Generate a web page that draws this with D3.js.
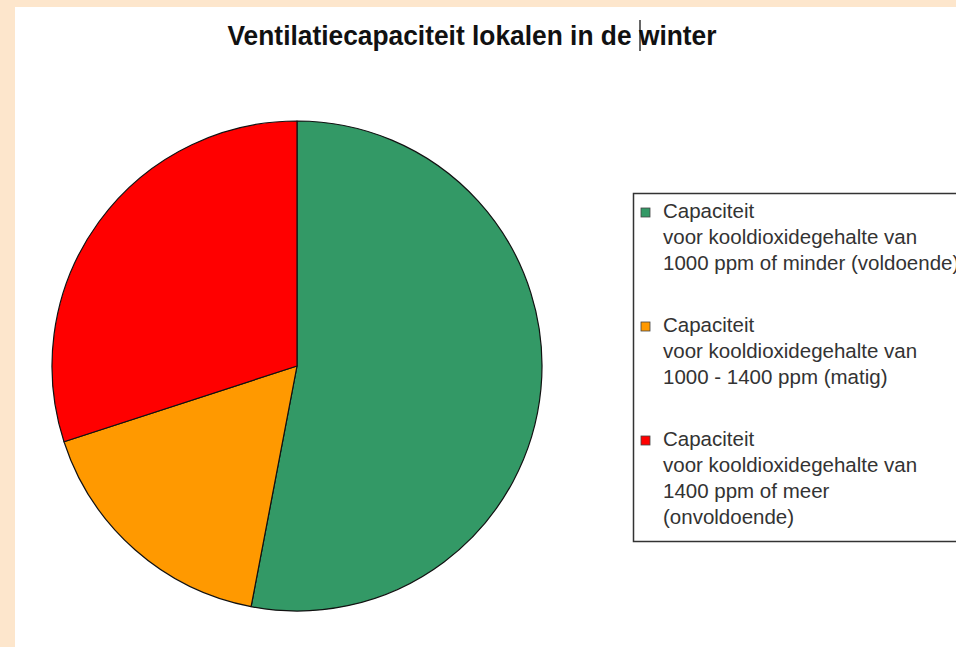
<!DOCTYPE html>
<html>
<head>
<meta charset="utf-8">
<script src="https://cdn.jsdelivr.net/npm/d3@7"></script>
<style>
  body { margin: 0; background: #fde6cc; }
  svg { display: block; }
  text { font-family: "Liberation Sans", Arial, sans-serif; }
</style>
</head>
<body>
<div id="chart"></div>
<script>
var categories = ['voldoende', 'matig', 'onvoldoende']
var values = [53, 17, 30]
var colors = ['#339966', '#ff9900', '#ff0000']
var legendLines = [
  ['Capaciteit', 'voor kooldioxidegehalte van', '1000 ppm of minder (voldoende)'],
  ['Capaciteit', 'voor kooldioxidegehalte van', '1000 - 1400 ppm (matig)'],
  ['Capaciteit', 'voor kooldioxidegehalte van', '1400 ppm of meer', '(onvoldoende)']
]
var title = 'Ventilatiecapaciteit lokalen in de winter'

var width = 956, height = 647

var svg = d3.select('#chart').append('svg')
  .attr('width', width).attr('height', height)

// white page, peach strip left and top
svg.append('rect')
  .attr('x', 15).attr('y', 7)
  .attr('width', width - 15).attr('height', height - 7)
  .attr('fill', '#fff')

svg.append('text')
  .attr('x', 472).attr('y', 45)
  .attr('text-anchor', 'middle')
  .attr('font-size', 28).attr('font-weight', 'bold')
  .attr('textLength', 489).attr('lengthAdjust', 'spacingAndGlyphs')
  .attr('fill', '#111')
  .text(title)

// the text cursor left in the screenshot
svg.append('line')
  .attr('x1', 640).attr('x2', 640).attr('y1', 20).attr('y2', 51)
  .attr('stroke', '#000').attr('stroke-width', 1.2)

var pie = d3.pie().sort(null).value(d => d)
var arc = d3.arc().innerRadius(0).outerRadius(245)

var g = svg.append('g').attr('transform', 'translate(297,366)')
g.selectAll('path')
  .data(pie(values))
  .join('path')
  .attr('d', arc)
  .attr('fill', (d, i) => colors[i])
  .attr('stroke', '#111')
  .attr('stroke-width', 1.2)
  .attr('stroke-linejoin', 'round')

// legend
var leg = svg.append('g').attr('transform', 'translate(633,193)')
leg.append('rect')
  .attr('x', 0.5).attr('y', 0.5)
  .attr('width', 400).attr('height', 348)
  .attr('fill', '#fff')
  .attr('stroke', '#333').attr('stroke-width', 1.5)

var items = leg.selectAll('g.item')
  .data(categories)
  .join('g')
  .attr('class', 'item')
  .attr('transform', (d, i) => 'translate(0,' + (i * 114) + ')')

items.append('rect')
  .attr('x', 8).attr('y', 15)
  .attr('width', 9).attr('height', 9)
  .attr('fill', (d, i) => colors[i])
  .attr('stroke', '#444').attr('stroke-width', 0.8)

items.each(function(d, i) {
  d3.select(this).selectAll('text')
    .data(legendLines[i])
    .join('text')
    .attr('x', 30)
    .attr('y', (t, j) => 25 + j * 26)
    .attr('font-size', 20.5)
    .attr('fill', '#333')
    .text(t => t)
})
</script>
</body>
</html>
